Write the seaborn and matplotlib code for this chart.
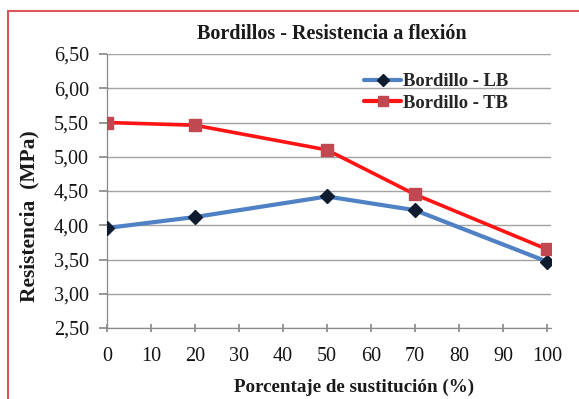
import matplotlib
matplotlib.use("Agg")
import matplotlib.pyplot as plt
import matplotlib.ticker as mticker
from matplotlib.patches import Rectangle
import pandas as pd
import seaborn as sns

# Flexural strength of kerbs vs. replacement percentage
sustitucion = [0, 20, 50, 70, 100]
bordillo_lb = [3.96, 4.12, 4.42, 4.22, 3.47]
bordillo_tb = [5.50, 5.46, 5.10, 4.45, 3.65]
series_names = ["Bordillo - LB", "Bordillo - TB"]

df = pd.concat([
    pd.DataFrame({"x": sustitucion, "y": bordillo_lb, "serie": series_names[0]}),
    pd.DataFrame({"x": sustitucion, "y": bordillo_tb, "serie": series_names[1]}),
])

sns.set_theme(style="white")
plt.rcParams["font.family"] = ["Liberation Serif", "DejaVu Serif"]

W, H = 579, 399
fig = plt.figure(figsize=(W / 100, H / 100), dpi=100)
ax = fig.add_axes([107 / W, 1 - 328 / H, 443.5 / W, 274 / H])

line_colors = {series_names[0]: "#4f81c4", series_names[1]: "#ff1414"}
marker_colors = {series_names[0]: "#0f1b2f", series_names[1]: "#c04850"}

sns.lineplot(data=df[df.serie == series_names[0]], x="x", y="y",
             color=line_colors[series_names[0]], linewidth=3.0, ax=ax, sort=False)
sns.lineplot(data=df[df.serie == series_names[1]], x="x", y="y",
             color=line_colors[series_names[1]], linewidth=2.6, ax=ax, sort=False)

# markers drawn on top of the lines
ax.plot(sustitucion, bordillo_lb, linestyle="none", marker="D", markersize=7.5,
        color=marker_colors[series_names[0]], zorder=5)
ax.plot(sustitucion, bordillo_tb, linestyle="none", marker="s", markersize=8.5,
        color=marker_colors[series_names[1]], zorder=5)

ax.set_xlim(0, 100.8)
ax.set_ylim(2.5, 6.5)
ax.xaxis.set_major_locator(mticker.MultipleLocator(10))
ax.yaxis.set_major_locator(mticker.MultipleLocator(0.5))
ax.yaxis.set_major_formatter(mticker.FuncFormatter(lambda v, p: f"{v:.2f}".replace(".", ",")))

ax.grid(axis="y", color="#a3a3a3", linewidth=1.0)
ax.set_axisbelow(True)
for s in ["top", "right"]:
    ax.spines[s].set_visible(False)
for s in ["left", "bottom"]:
    ax.spines[s].set_color("#8a8a8a")
    ax.spines[s].set_linewidth(0.9)

ax.tick_params(axis="y", which="major", direction="out", length=6, color="#8a8a8a",
               labelsize=14.5, pad=7, left=True)
ax.tick_params(axis="x", which="major", direction="inout", length=6, color="#8a8a8a",
               labelsize=14.5, pad=11, bottom=True)
for t in ax.get_xticklabels() + ax.get_yticklabels():
    t.set_color("#141414")

ax.set_xlabel("")
ax.set_ylabel("")
fig.text(354 / W, 1 - 387 / H, "Porcentaje de sustitución (%)", fontsize=13.7,
         fontweight="bold", color="#1a1a1a", ha="center", va="center")
fig.text(29.5 / W, 1 - 216 / H, "Resistencia  (MPa)", fontsize=15.5, rotation=90,
         fontweight="bold", color="#1a1a1a", ha="center", va="center")
fig.text(332 / W, 1 - 34 / H, "Bordillos - Resistencia a flexión", fontsize=14.5,
         fontweight="bold", color="#1a1a1a", ha="center", va="center")

handles = [
    plt.Line2D([], [], color=line_colors[series_names[0]], linewidth=3, marker="D",
               markersize=6, markerfacecolor=marker_colors[series_names[0]],
               markeredgecolor=marker_colors[series_names[0]]),
    plt.Line2D([], [], color=line_colors[series_names[1]], linewidth=3, marker="s",
               markersize=7.5, markerfacecolor=marker_colors[series_names[1]],
               markeredgecolor=marker_colors[series_names[1]]),
]
leg = fig.legend(handles, series_names, loc="center left",
                 bbox_to_anchor=(364 / W, 1 - 92.5 / H),
                 frameon=False, handlelength=2.0, handletextpad=0.1, labelspacing=0.25,
                 borderpad=0, borderaxespad=0,
                 prop={"family": "Liberation Serif", "weight": "bold", "size": 13.4})

# outer frame
fig.patches.append(Rectangle((8 / W, -0.05), 1.0, 1 - 11 / H + 0.05,
                             transform=fig.transFigure, fill=False,
                             edgecolor="#d9575a", linewidth=1.5))

fig.savefig("out.png", dpi=100)
